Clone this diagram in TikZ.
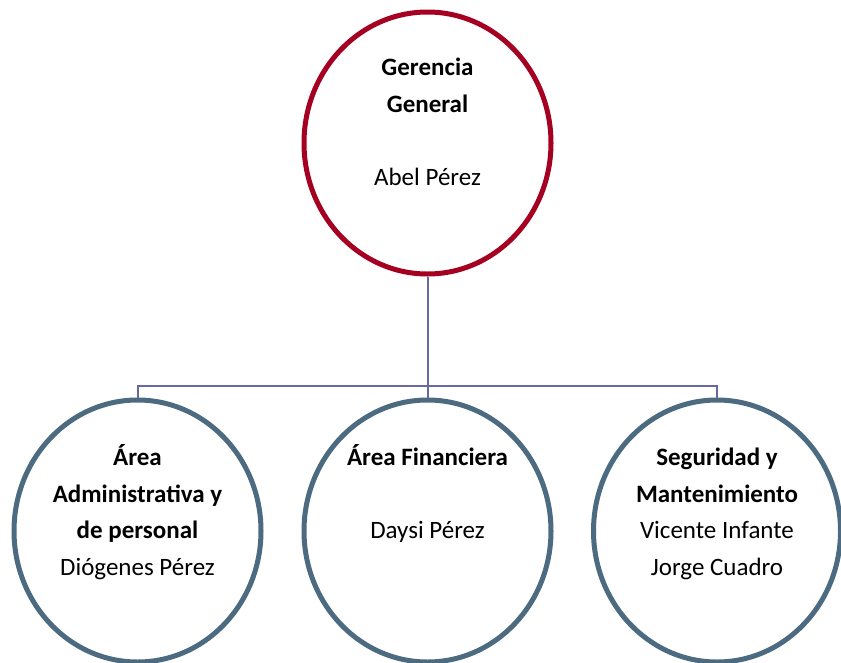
\documentclass[tikz,border=0pt]{standalone}
\usepackage{fontspec}
\setmainfont{Carlito}
\usetikzlibrary{shapes.geometric}
\definecolor{topred}{RGB}{165,0,33}
\definecolor{subblue}{RGB}{76,106,128}
\definecolor{connc}{RGB}{104,104,160}
\tikzset{
  topcirc/.style={ellipse, draw=topred, line width=5pt, minimum width=247pt, minimum height=262pt, inner sep=0pt},
  subcirc/.style={ellipse, draw=subblue, line width=5pt, minimum width=247pt, minimum height=262pt, inner sep=0pt},
  conn/.style={draw=connc, line width=2pt},
  lbl/.style={align=center, anchor=base, inner sep=0pt, font=\fontsize{25}{36.5}\selectfont}
}
\begin{document}
\begin{tikzpicture}[x=1pt,y=-1pt]
\useasboundingbox (0,0) rectangle (841,662);
\clip (0,0) rectangle (841,662);
\fill[white] (0,0) rectangle (841,662);
\coordinate (bar) at (427.5,386);
\node[topcirc] (g) at (427.5,143) {};
\node[subcirc] (a) at (137.5,531) {};
\node[subcirc] (b) at (427.5,531) {};
\node[subcirc] (c) at (717,531) {};
\draw[conn] (g.south) -- (bar);
\draw[conn] (bar) -| (a.north);
\draw[conn] (bar) -| (c.north);
\draw[conn] (bar) -- (b.north);
\node[lbl] (gt) at (427.5,185) {\textbf{Gerencia}\\\textbf{General}\\[36.5pt]Abel Pérez};
\node[lbl] (at) at (137.5,575) {\textbf{Área}\\\textbf{Administrativa y}\\\textbf{de personal}\\Diógenes Pérez};
\node[lbl] (bt) at (427.5,538) {\textbf{Área Financiera}\\[36.5pt]Daysi Pérez};
\node[lbl] (ct) at (717,575) {\textbf{Seguridad y}\\\textbf{Mantenimiento}\\Vicente Infante\\Jorge Cuadro};
\end{tikzpicture}
\end{document}
